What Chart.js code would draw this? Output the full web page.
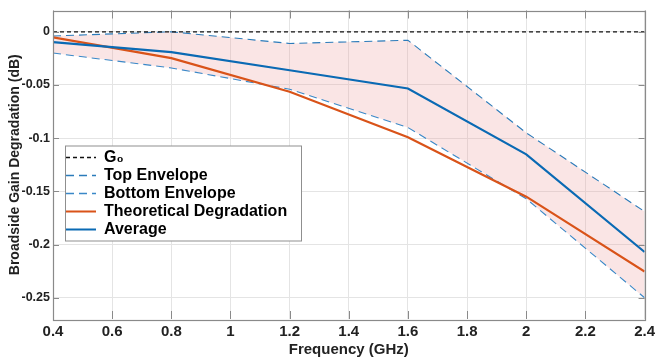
<!DOCTYPE html>
<html>
<head>
<meta charset="utf-8">
<script src="https://cdn.jsdelivr.net/npm/chart.js@4.4.1/dist/chart.umd.min.js"></script>
<style>
html,body{margin:0;padding:0;background:#fff;}
#wrap{width:659px;height:361px;position:relative;}
</style>
</head>
<body>
<div id="wrap"><canvas id="c"></canvas></div>
<script>
// ---- data ----
const frequencies    = [0.4, 0.8, 1.2, 1.6, 2.0, 2.4];
const g0Line         = [0, 0, 0, 0, 0, 0];
const topEnvelope    = [-0.004, 0.0, -0.011, -0.008, -0.095, -0.169];
const bottomEnvelope = [-0.020, -0.034, -0.054, -0.090, -0.157, -0.250];
const theoretical    = [-0.0053, -0.0248, -0.0564, -0.0992, -0.155, -0.2253];
const average        = [-0.0097, -0.0192, -0.0362, -0.0533, -0.1152, -0.207];
const seriesLabels   = ['G\u2080', 'Top Envelope', 'Bottom Envelope', 'Theoretical Degradation', 'Average'];
const xTickValues    = [0.4, 0.6, 0.8, 1.0, 1.2, 1.4, 1.6, 1.8, 2.0, 2.2, 2.4];
const xTickLabels    = ['0.4', '0.6', '0.8', '1', '1.2', '1.4', '1.6', '1.8', '2', '2.2', '2.4'];
const yTickValues    = [0, -0.05, -0.1, -0.15, -0.2, -0.25];
const yTickLabels    = ['0', '-0.05', '-0.1', '-0.15', '-0.2', '-0.25'];
const xTitle = 'Frequency (GHz)';
const yTitle = 'Broadside Gain Degradation (dB)';

const FONT = "'Liberation Sans', Arial, Helvetica, 'DejaVu Sans', sans-serif";
const pts = (arr) => frequencies.map((f, i) => ({x: f, y: arr[i]}));

const frame = {
  id: 'frame',
  beforeDraw(chart) {
    const lg = chart.legend, ca = chart.chartArea;
    const w = lg.width, h = lg.height;
    lg.left = ca.left + 11; lg.top = ca.top + 137;
    lg.right = lg.left + w; lg.bottom = lg.top + h;
  },
  afterDraw(chart) {
    const ctx = chart.ctx, ca = chart.chartArea;
    const xs = chart.scales.x, ys = chart.scales.y;
    ctx.save();
    // legend box
    const bx = ca.left + 12.5, by = ca.top + 135.5, bw = 236, bh = 95;
    ctx.fillStyle = '#ffffff';
    ctx.fillRect(bx, by, bw, bh);
    ctx.strokeStyle = '#8f8f8f';
    ctx.lineWidth = 1;
    ctx.setLineDash([]);
    ctx.strokeRect(bx, by, bw, bh);
    ctx.restore();
    chart.legend.draw(ca);
    ctx.save();
    // axes frame
    ctx.strokeStyle = '#8a8a8a';
    ctx.lineWidth = 1.2;
    ctx.setLineDash([]);
    ctx.strokeRect(Math.round(ca.left) + 0.5, Math.round(ca.top) + 0.5,
                   Math.round(ca.right - ca.left), Math.round(ca.bottom - ca.top));
    // inner tick marks
    ctx.lineWidth = 1;
    ctx.beginPath();
    xs.ticks.forEach(t => {
      const px = Math.round(xs.getPixelForValue(t.value)) + 0.5;
      ctx.moveTo(px, ca.bottom); ctx.lineTo(px, ca.bottom - 8);
      ctx.moveTo(px, ca.top); ctx.lineTo(px, ca.top + 8);
    });
    ys.ticks.forEach(t => {
      const py = Math.round(ys.getPixelForValue(t.value)) + 0.5;
      ctx.moveTo(ca.left, py); ctx.lineTo(ca.left + 6, py);
      ctx.moveTo(ca.right, py); ctx.lineTo(ca.right - 6, py);
    });
    ctx.stroke();
    ctx.restore();
  }
};

new Chart(document.getElementById('c'), {
  type: 'line',
  data: {
    datasets: [
      { label: seriesLabels[0], data: pts(g0Line), borderColor: '#111111', borderWidth: 1.2,
        borderDash: [4, 3], pointRadius: 0, fill: false, order: 2 },
      { label: seriesLabels[1], data: pts(topEnvelope), borderColor: '#2b7bba', borderWidth: 1.1,
        borderDash: [8, 5], pointRadius: 0, fill: '+1', backgroundColor: 'rgba(236,160,160,0.28)', order: 4 },
      { label: seriesLabels[2], data: pts(bottomEnvelope), borderColor: '#3a88c8', borderWidth: 1.1,
        borderDash: [8, 5], pointRadius: 0, fill: false, order: 3 },
      { label: seriesLabels[3], data: pts(theoretical), borderColor: '#D95319', borderWidth: 2.2,
        pointRadius: 0, fill: false, order: 1 },
      { label: seriesLabels[4], data: pts(average), borderColor: '#0a6ab4', borderWidth: 2.2,
        pointRadius: 0, fill: false, order: 0 }
    ]
  },
  options: {
    responsive: true,
    maintainAspectRatio: false,
    animation: false,
    layout: { padding: { top: 7, right: 13, left: 0, bottom: 0 } },
    elements: { line: { tension: 0 } },
    plugins: {
      tooltip: { enabled: false },
      legend: {
        position: 'chartArea',
        align: 'start',
        labels: {
          usePointStyle: true,
          pointStyle: 'line',
          pointStyleWidth: 30,
          padding: 2,
          color: '#000',
          font: { family: FONT, size: 16, weight: 'bold' },
          generateLabels: (chart) => chart.data.datasets.map((ds, i) => ({
            text: ds.label,
            datasetIndex: i,
            hidden: false,
            fillStyle: 'rgba(0,0,0,0)',
            strokeStyle: ds.borderColor,
            lineWidth: Math.max(ds.borderWidth, 1.4),
            lineDash: ds.borderDash || [],
            lineCap: 'butt',
            pointStyle: 'line',
            fontColor: '#000'
          }))
        }
      }
    },
    scales: {
      x: {
        type: 'linear',
        min: 0.4, max: 2.4,
        afterBuildTicks: (s) => { s.ticks = xTickValues.map(v => ({value: v})); },
        afterFit: (s) => { s.height = 42; },
        ticks: {
          callback: (v) => xTickLabels[xTickValues.indexOf(v)],
          color: '#222', padding: 4, maxRotation: 0, autoSkip: false,
          font: { family: FONT, size: 15, weight: 'bold' }
        },
        grid: { color: '#e4e4e4', drawTicks: false, lineWidth: 1 },
        border: { display: false },
        title: { display: true, text: xTitle, color: '#222',
                 padding: { top: 0, bottom: 2 },
                 font: { family: FONT, size: 15, weight: 'bold' } }
      },
      y: {
        type: 'linear',
        min: -0.27, max: 0.02,
        afterBuildTicks: (s) => { s.ticks = yTickValues.slice().reverse().map(v => ({value: v})); },
        afterFit: (s) => { s.width = 53; },
        ticks: {
          callback: (v) => yTickLabels[yTickValues.indexOf(v)],
          color: '#222', padding: 3, autoSkip: false,
          font: { family: FONT, size: 12.5, weight: 'bold' }
        },
        grid: { color: '#e4e4e4', drawTicks: false, lineWidth: 1 },
        border: { display: false },
        title: { display: true, text: yTitle, color: '#222',
                 padding: { top: 7, bottom: 0 },
                 font: { family: FONT, size: 14, weight: 'bold' } }
      }
    }
  },
  plugins: [frame]
});
</script>
</body>
</html>
